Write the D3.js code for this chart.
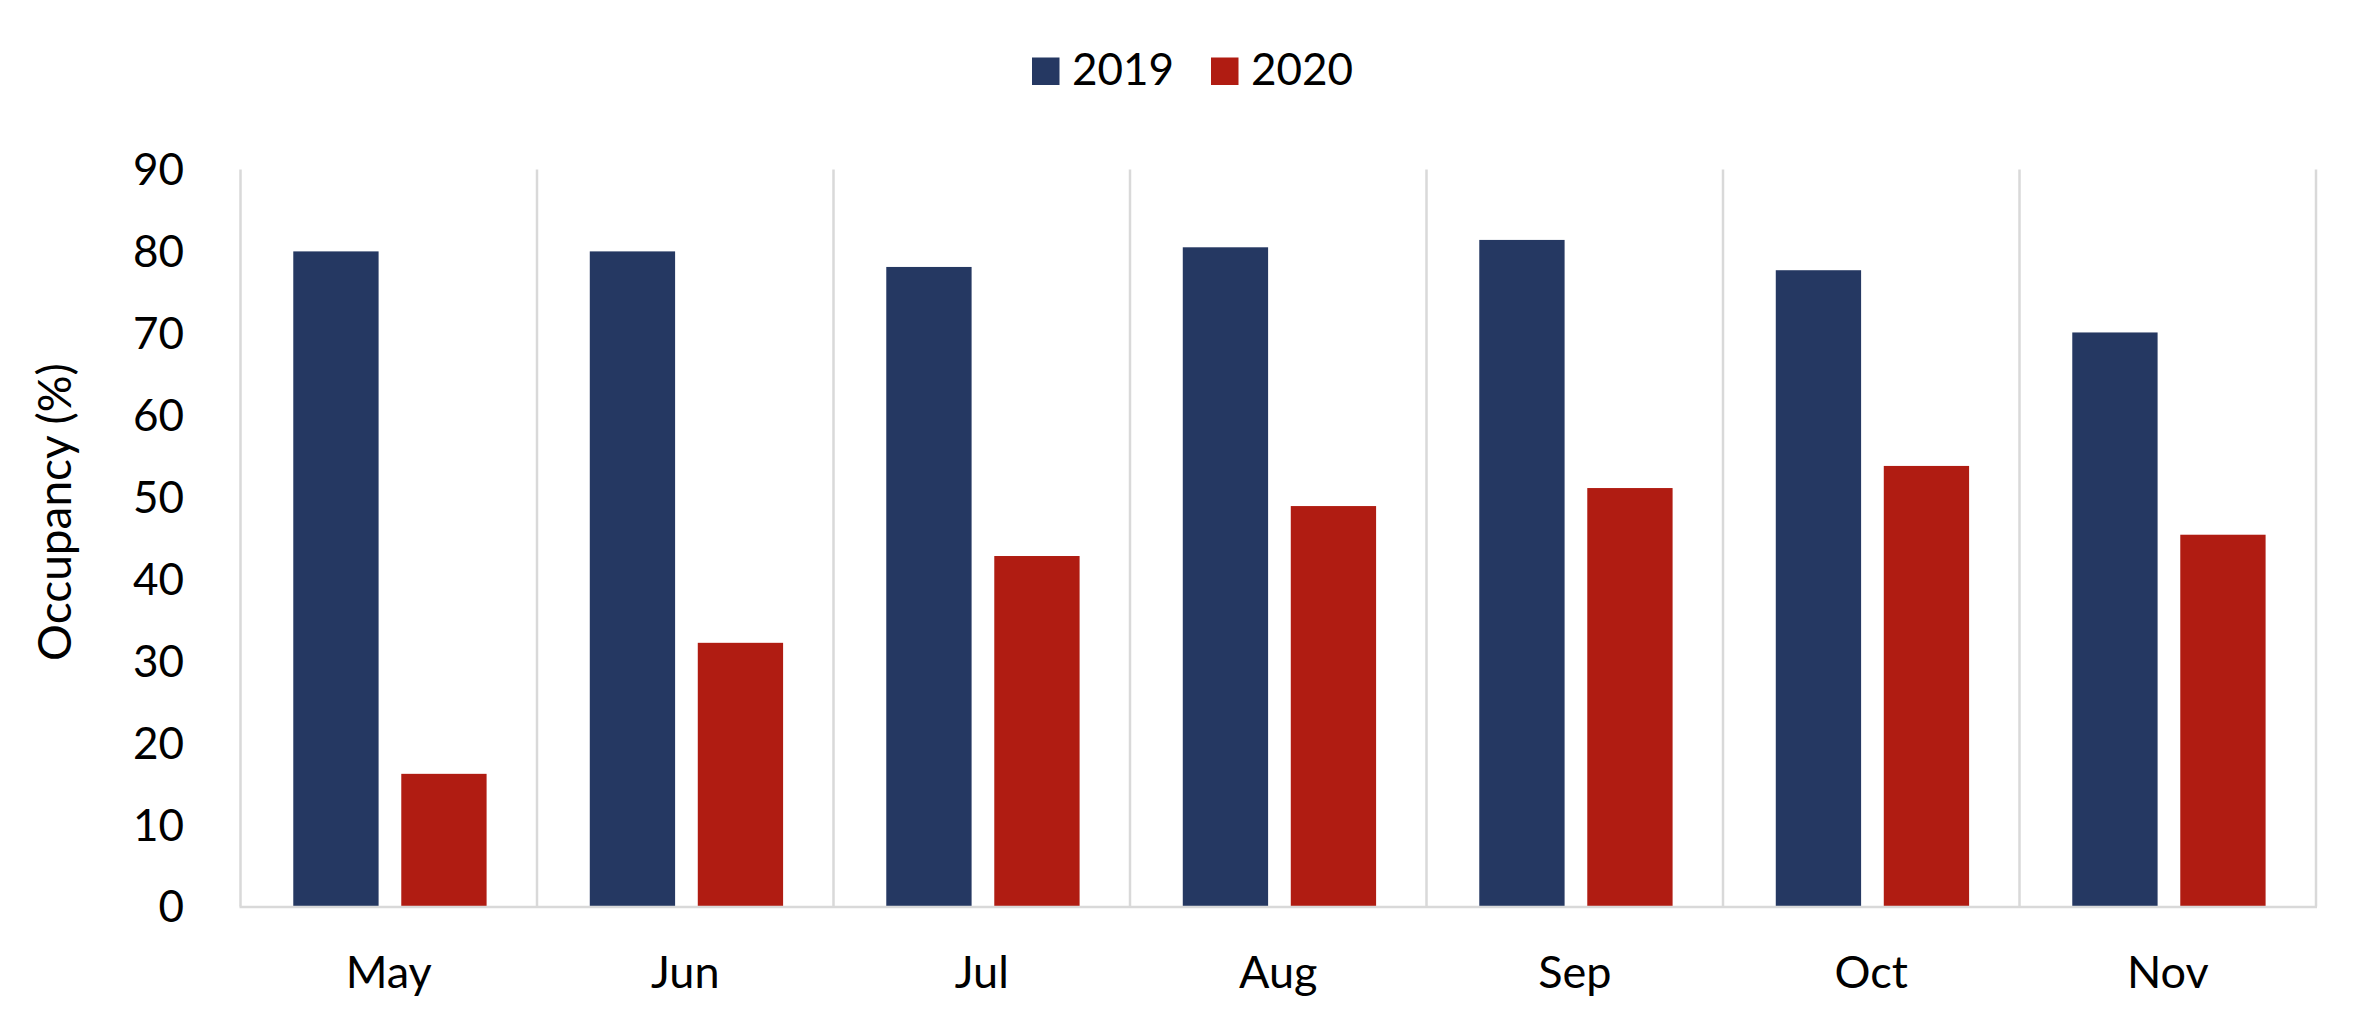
<!DOCTYPE html>
<html>
<head>
<meta charset="utf-8">
<script src="https://cdn.jsdelivr.net/npm/d3@7"></script>
<style>
  html, body { margin: 0; padding: 0; background: #ffffff; }
  svg { display: block; }
  text { font-family: Lato, "Open Sans", sans-serif; fill: #000; }
</style>
</head>
<body>
<svg id="chart" width="2366" height="1031"></svg>
<script>
const months = ["May", "Jun", "Jul", "Aug", "Sep", "Oct", "Nov"];
const seriesNames = ["2019", "2020"];
const values2019 = [80.0, 80.0, 78.1, 80.5, 81.4, 77.7, 70.1];
const values2020 = [16.2, 32.2, 42.8, 48.9, 51.1, 53.8, 45.4];
const yTicks = [0, 10, 20, 30, 40, 50, 60, 70, 80, 90];
const colors = ["#253862", "#b01c12"];
const yTitle = "Occupancy (%)";

const seriesValues = [values2019, values2020];
const svg = d3.select("#chart");
const plot = { left: 240.5, right: 2316, top: 169.5, bottom: 906.5 };
const fontSize = 44;

const x = d3.scaleBand().domain(months).range([plot.left, plot.right]).paddingInner(0).paddingOuter(0);
const y = d3.scaleLinear().domain([0, 90]).range([plot.bottom, plot.top]);
const band = x.bandwidth();
const xs = d3.scaleBand().domain(seriesNames)
  .range([band * 0.178, band * 0.830]).paddingInner(0.21).paddingOuter(0);

const grid = "#d9d9d9";

// vertical gridlines at category boundaries
const bounds = months.map(m => x(m)).concat([plot.right]);
svg.append("g").selectAll("line").data(bounds).join("line")
  .attr("x1", d => d).attr("x2", d => d)
  .attr("y1", y(90)).attr("y2", y(0))
  .attr("stroke", grid).attr("stroke-width", 2.5);

// bars
const groups = svg.append("g").selectAll("g").data(months).join("g")
  .attr("transform", m => `translate(${x(m)},0)`);
groups.selectAll("rect")
  .data((m, i) => seriesNames.map((s, k) => ({ s, k, v: seriesValues[k][i] })))
  .join("rect")
  .attr("x", d => xs(d.s))
  .attr("width", xs.bandwidth())
  .attr("y", d => y(d.v))
  .attr("height", d => y(0) - y(d.v))
  .attr("fill", d => colors[d.k]);

// baseline
svg.append("line")
  .attr("x1", plot.left - 1).attr("x2", plot.right + 1)
  .attr("y1", y(0) + 0.5).attr("y2", y(0) + 0.5)
  .attr("stroke", grid).attr("stroke-width", 2.5);

// y axis labels
const yAxis = d3.axisLeft(y).tickValues(yTicks).tickSize(0).tickPadding(0).tickFormat(d3.format("d"));
const yg = svg.append("g").attr("transform", `translate(${184},0)`).call(yAxis);
yg.select(".domain").remove();
yg.selectAll("text").style("font-size", fontSize + "px").attr("fill", "#000")
  .style("font-family", "Lato, 'Open Sans', sans-serif").attr("dy", "0.35em");

// x axis labels
const xAxis = d3.axisBottom(x).tickSize(0).tickPadding(0);
const xg = svg.append("g").attr("transform", `translate(0,${988})`).call(xAxis);
xg.select(".domain").remove();
xg.selectAll("text").style("font-size", (fontSize + 1) + "px").attr("fill", "#000")
  .style("font-family", "Lato, 'Open Sans', sans-serif").attr("dy", 0).attr("y", 0);

// y title
svg.append("text")
  .attr("transform", `translate(${71},${512}) rotate(-90)`)
  .attr("text-anchor", "middle")
  .style("font-size", "46px")
  .text(yTitle);

// legend
const legendItems = [{ x: 1032, name: seriesNames[0], c: colors[0] }, { x: 1211, name: seriesNames[1], c: colors[1] }];
const lg = svg.append("g");
legendItems.forEach(it => {
  lg.append("rect").attr("x", it.x).attr("y", 57.5).attr("width", 27.5).attr("height", 27.5).attr("fill", it.c);
  lg.append("text").attr("x", it.x + 40).attr("y", 85).style("font-size", fontSize + "px").text(it.name);
});
</script>
</body>
</html>
